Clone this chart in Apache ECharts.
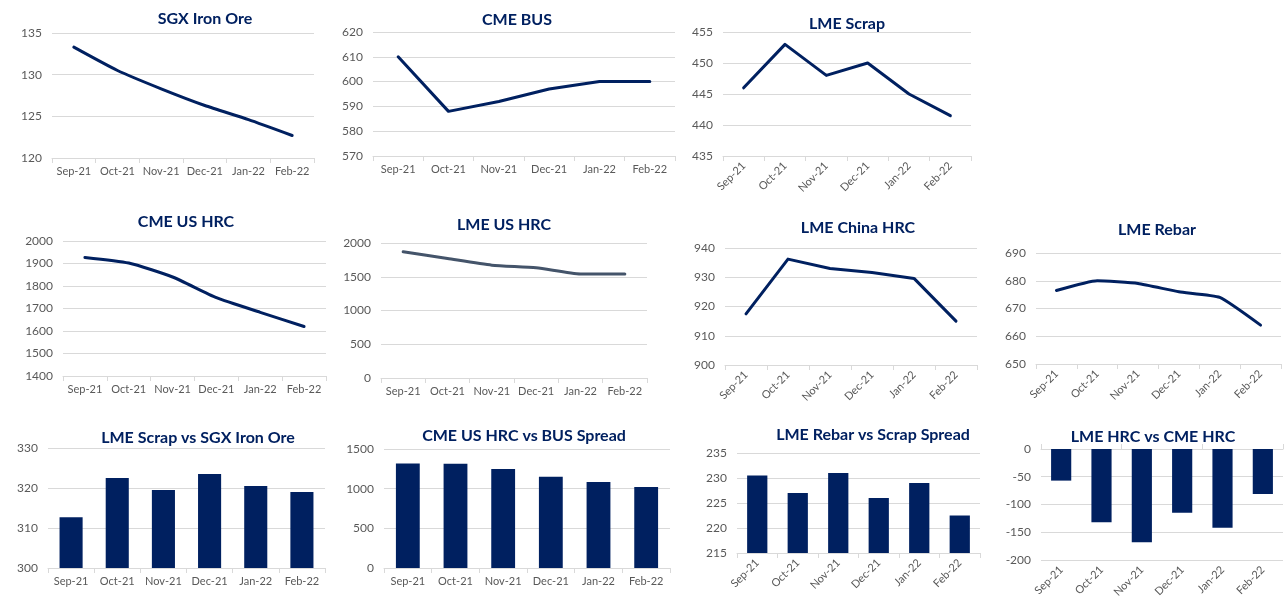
<!DOCTYPE html>
<html>
<head>
<meta charset="utf-8">
<script src="https://cdn.jsdelivr.net/npm/echarts@6/dist/echarts.min.js"></script>
<style>
html,body{margin:0;padding:0;background:#fff;}
#chart{width:1284px;height:600px;}
</style>
</head>
<body>
<div id="chart"></div>
<script>
// ---- data ----
const months = ['Sep-21', 'Oct-21', 'Nov-21', 'Dec-21', 'Jan-22', 'Feb-22'];
const sgxIronOre = [133.3, 130.5, 128.3, 126.3, 124.6, 122.7];
const cmeBus = [610, 588, 592, 597, 600, 600];
const lmeScrap = [446, 453, 448, 450, 445, 441.5];
const cmeUsHrc = [1927, 1902, 1840, 1748, 1683, 1620];
const lmeUsHrc = [1870, 1770, 1672, 1633, 1541, 1539];
const lmeChinaHrc = [917.5, 936.2, 933, 931.6, 929.6, 915];
const lmeRebar = [676.5, 680, 679, 676, 674, 664];
const scrapVsOre = [312.7, 322.5, 319.5, 323.5, 320.5, 319];
const hrcVsBusSpread = [1317, 1314, 1248, 1151, 1083, 1020];
const rebarVsScrapSpread = [230.5, 227, 231, 226, 229, 222.5];
const lmeVsCmeHrc = [-57, -132, -168, -115, -142, -81];

const titles = ['SGX Iron Ore', 'CME BUS', 'LME Scrap', 'CME US HRC', 'LME US HRC', 'LME China HRC',
  'LME Rebar', 'LME Scrap vs SGX Iron Ore', 'CME US HRC vs BUS Spread', 'LME Rebar vs Scrap Spread', 'LME HRC vs CME HRC'];

// ---- layout / style ----
const NAVY = '#002060';
const GRAYLINE = '#D9D9D9';
const LABEL = '#595959';
const FONT = 'Lato, "Open Sans", sans-serif';

const charts = [
  {data: sgxIronOre, type: 'line', smooth: 0.2, min: 120, max: 135, interval: 5, grid: [52, 33, 262, 125], tx: 200, ty: 6, rot: 0},
  {data: cmeBus, type: 'line', smooth: false, min: 570, max: 620, interval: 10, grid: [373, 32, 302, 124], tx: 512, ty: 7, rot: 0},
  {data: lmeScrap, type: 'line', smooth: false, min: 435, max: 455, interval: 5, grid: [723, 32, 248, 124], tx: 842, ty: 11, rot: 45},
  {data: cmeUsHrc, type: 'line', smooth: 0.2, min: 1400, max: 2000, interval: 100, grid: [63, 241, 263, 135], tx: 181, ty: 209, rot: 0},
  {data: lmeUsHrc, type: 'line', smooth: 0.2, min: 0, max: 2000, interval: 500, grid: [381, 243, 266, 135], tx: 499, ty: 212, rot: 0, color: '#44546A'},
  {data: lmeChinaHrc, type: 'line', smooth: false, min: 900, max: 940, interval: 10, grid: [725, 248, 252, 117], tx: 853, ty: 215, rot: 45},
  {data: lmeRebar, type: 'line', smooth: 0.15, min: 650, max: 690, interval: 10, grid: [1036, 253, 245, 111], tx: 1152, ty: 217, rot: 45},
  {data: scrapVsOre, type: 'bar', min: 300, max: 330, interval: 10, grid: [48, 448, 277, 120], tx: 193, ty: 425, rot: 0},
  {data: hrcVsBusSpread, type: 'bar', min: 0, max: 1500, interval: 500, grid: [384, 449, 286, 119], tx: 519, ty: 423, rot: 0},
  {data: rebarVsScrapSpread, type: 'bar', min: 215, max: 235, interval: 5, grid: [737, 453, 243, 100], tx: 868, ty: 422, rot: 45},
  {data: lmeVsCmeHrc, type: 'bar', min: -200, max: 0, interval: 50, grid: [1041, 449, 242, 112], tx: 1148, ty: 424, rot: 45, splitAxis: true}
];

const option = {
  animation: false,
  backgroundColor: '#ffffff',
  textStyle: {fontFamily: FONT},
  title: [], grid: [], xAxis: [], yAxis: [], series: []
};

charts.forEach((c, i) => {
  option.title.push({
    text: titles[i], left: c.tx, top: c.ty, textAlign: 'center',
    textStyle: {color: NAVY, fontSize: 16, fontWeight: 'bold', fontFamily: FONT}
  });
  option.grid.push({left: c.grid[0], top: c.grid[1], width: c.grid[2], height: c.grid[3], containLabel: false});
  const baseX = {
    type: 'category', data: months, gridIndex: i, boundaryGap: true,
    axisLine: {show: true, onZero: false, lineStyle: {color: GRAYLINE, width: 1}},
    axisTick: {show: true, length: 5, alignWithLabel: false, lineStyle: {color: GRAYLINE}},
    axisLabel: {color: LABEL, fontSize: 11, margin: 8, rotate: c.rot, interval: 0, fontFamily: FONT},
    splitLine: {show: false}
  };
  let xIndex;
  if (c.splitAxis) {
    // axis line with ticks at zero (top), labels at the bottom
    option.xAxis.push(Object.assign({}, baseX, {position: 'top', axisLabel: {show: false}}));
    xIndex = option.xAxis.length - 1;
    option.xAxis.push(Object.assign({}, baseX, {position: 'bottom', axisLine: {show: false}, axisTick: {show: false}}));
  } else {
    option.xAxis.push(Object.assign({}, baseX, {position: 'bottom'}));
    xIndex = option.xAxis.length - 1;
  }
  option.yAxis.push({
    type: 'value', gridIndex: i, min: c.min, max: c.max, interval: c.interval,
    axisLine: {show: false}, axisTick: {show: false},
    axisLabel: {color: LABEL, fontSize: 12, margin: 10, fontFamily: FONT, formatter: v => String(v)},
    splitLine: {show: true, lineStyle: {color: GRAYLINE, width: 1}}
  });
  const yIndex = option.yAxis.length - 1;
  if (c.type === 'line') {
    option.series.push({
      type: 'line', xAxisIndex: xIndex, yAxisIndex: yIndex, data: c.data,
      smooth: c.smooth, symbol: 'none',
      lineStyle: {color: c.color || NAVY, width: 3, cap: 'round', join: 'round'}
    });
  } else {
    option.series.push({
      type: 'bar', xAxisIndex: xIndex, yAxisIndex: yIndex, data: c.data,
      barWidth: '50%', itemStyle: {color: NAVY}
    });
  }
});

const chart = echarts.init(document.getElementById('chart'), null, {renderer: 'canvas'});
chart.setOption(option);
</script>
</body>
</html>
